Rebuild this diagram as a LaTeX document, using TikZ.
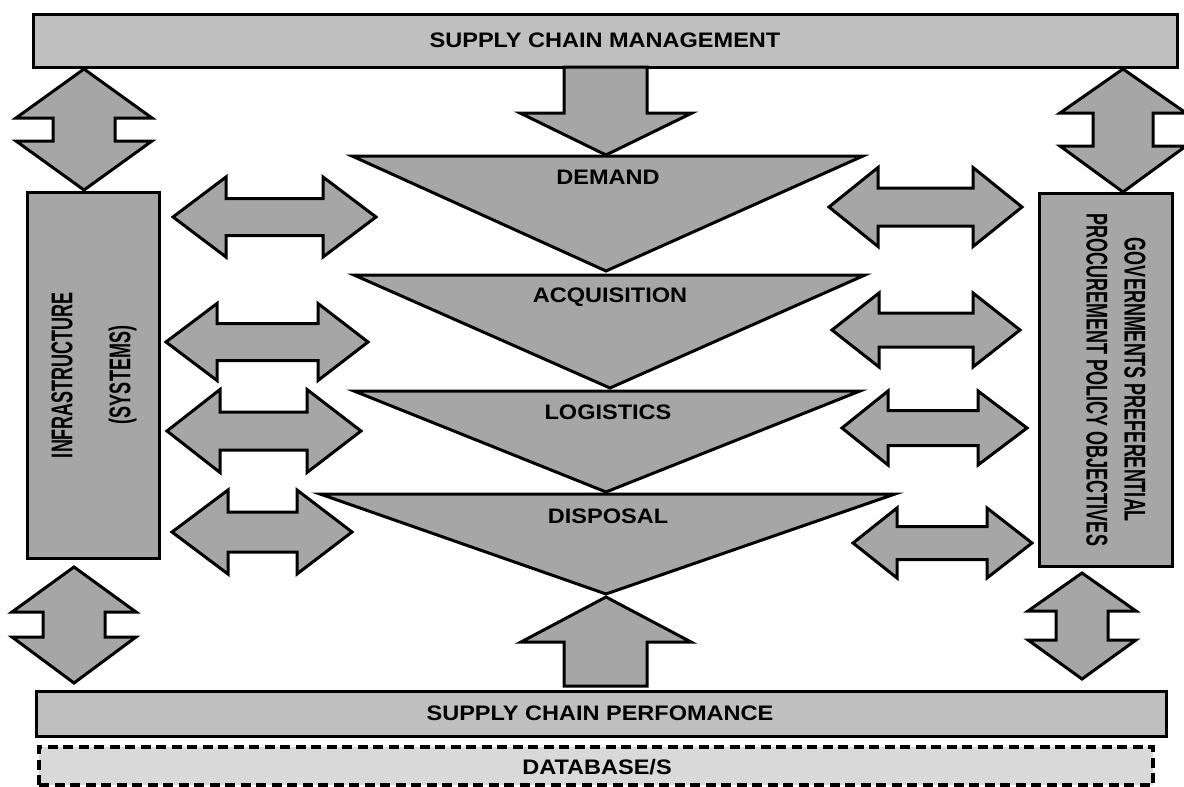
\documentclass[tikz,border=0pt]{standalone}
\usepackage{fontspec}
\usepackage{graphicx}
\setmainfont{Liberation Sans}
\definecolor{barfill}{HTML}{BFBFBF}
\definecolor{shapefill}{HTML}{A6A6A6}
\definecolor{dbfill}{HTML}{D9D9D9}
\newcommand{\htxt}[1]{\scalebox{1.12}[1]{#1}}
\newcommand{\vtxt}[1]{\scalebox{0.6}[1]{#1}}
% horizontal double block arrow: x1 x2 cy xb1 xb2 headhalf stemhalf
\newcommand{\hdarr}[7]{%
  \draw[blk] (#1,#3) -- (#4,{#3-#6}) -- (#4,{#3-#7}) -- (#5,{#3-#7}) -- (#5,{#3-#6})
    -- (#2,#3) -- (#5,{#3+#6}) -- (#5,{#3+#7}) -- (#4,{#3+#7}) -- (#4,{#3+#6}) -- cycle;}
% vertical double block arrow: cx y1 y2 yb1 yb2 headhalf stemhalf
\newcommand{\vdarr}[7]{%
  \draw[blk] (#1,#2) -- ({#1+#6},#4) -- ({#1+#7},#4) -- ({#1+#7},#5) -- ({#1+#6},#5)
    -- (#1,#3) -- ({#1-#6},#5) -- ({#1-#7},#5) -- ({#1-#7},#4) -- ({#1-#6},#4) -- cycle;}
\begin{document}
\begin{tikzpicture}[x=1pt,y=-1pt,
  blk/.style={draw=black, line width=3pt, fill=shapefill},
  barbox/.style={draw=black, line width=3pt, fill=barfill, inner sep=0pt},
  sidebox/.style={draw=black, line width=3pt, fill=shapefill, inner sep=0pt},
  dbbox/.style={draw=black, line width=3.5pt, fill=dbfill, dash pattern=on 10pt off 5.5pt, inner sep=0pt},
  htext/.style={font=\fontsize{21}{25}\selectfont\bfseries, inner sep=0pt},
  vtext/.style={inner sep=0pt, align=center}]
\useasboundingbox (0,0) rectangle (1184,787);

% bars
\node[barbox, minimum width=1144pt, minimum height=53pt] (scm) at (605,40.5) {};
\node[htext] (scmt) at (605,40.5) {\htxt{SUPPLY CHAIN MANAGEMENT}};
\node[barbox, minimum width=1130pt, minimum height=45pt] (scp) at (601,713.5) {};
\node[htext] (scpt) at (600,713.5) {\htxt{SUPPLY CHAIN PERFOMANCE}};
\node[dbbox, minimum width=1114pt, minimum height=38pt] (db) at (596,766) {};
\node[htext] (dbt) at (597,767) {\htxt{DATABASE/S}};

% side boxes
\node[sidebox, minimum width=132pt, minimum height=366pt] (infra) at (93,375) {};
\node[vtext, rotate=90, font=\fontsize{30}{58}\selectfont\bfseries] (infrat) at (94,375)
  {\vtxt{INFRASTRUCTURE}\\\vtxt{(SYSTEMS)}};
\node[sidebox, minimum width=133pt, minimum height=373pt] (gov) at (1105.5,379.5) {};
\node[vtext, rotate=-90, font=\fontsize{30}{38}\selectfont\bfseries] (govt) at (1116,380)
  {\vtxt{GOVERNMENTS PREFERENTIAL}\\\vtxt{PROCUREMENT POLICY OBJECTIVES}};

% central funnel
\draw[blk] (564,67) -- (647,67) -- (647,113) -- (692,113) -- (606,155) -- (520,113) -- (564,113) -- cycle;
\draw[blk] (352,156) -- (863,156) -- (606,271) -- cycle;
\draw[blk] (354,275) -- (865,275) -- (610,388) -- cycle;
\draw[blk] (354,391) -- (860,391) -- (606,492) -- cycle;
\draw[blk] (320,494) -- (895,494) -- (606,594) -- cycle;
\draw[blk] (606,597) -- (691,642) -- (647,642) -- (647,686) -- (564,686) -- (564,642) -- (521,642) -- cycle;
\node[htext] (dem) at (608,177) {\htxt{DEMAND}};
\node[htext] (acq) at (610,297) {\htxt{ACQUISITION}};
\node[htext] (log) at (608,412) {\htxt{LOGISTICS}};
\node[htext] (dis) at (608,516) {\htxt{DISPOSAL}};

% vertical double arrows
\vdarr{84}{69}{190}{118}{141}{68}{31}
\vdarr{1123}{69}{192}{113}{146}{63}{30}
\vdarr{74}{567}{683}{612}{637}{62}{31}
\vdarr{1082}{573}{679}{611}{640}{54}{26}

% left horizontal double arrows
\hdarr{173}{376}{217}{226}{323}{40}{18.5}
\hdarr{166}{368}{342}{217}{318}{38.5}{18.5}
\hdarr{167}{361}{431}{220}{307}{41.5}{19}
\hdarr{172}{352}{532}{228}{297}{42}{20}

% right horizontal double arrows
\hdarr{829}{1022}{207}{878}{973}{39.5}{19}
\hdarr{832}{1020}{330}{879}{973}{37}{17}
\hdarr{842}{1027}{428}{888}{978}{37}{17.5}
\hdarr{853}{1032}{543}{897}{987}{35}{16.5}
\end{tikzpicture}
\end{document}
